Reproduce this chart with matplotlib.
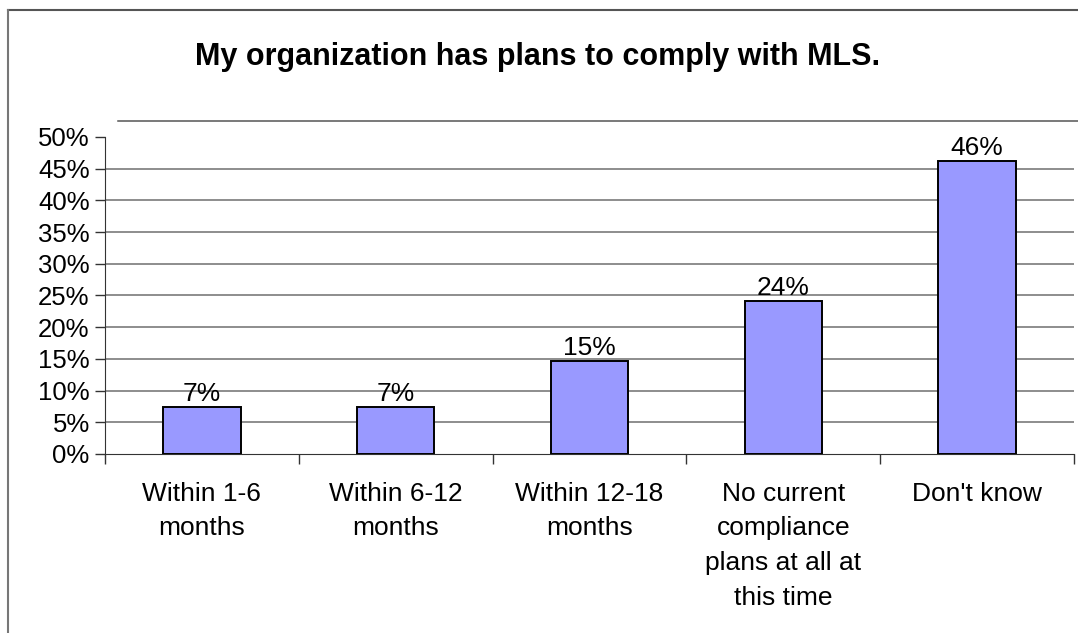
import numpy as np
import matplotlib
matplotlib.use('Agg')
import matplotlib.pyplot as plt
from matplotlib.lines import Line2D

plt.rcParams['font.family'] = ['Liberation Sans', 'DejaVu Sans']

# Survey answers and shares
categories = ['Within 1-6\nmonths', 'Within 6-12\nmonths', 'Within 12-18\nmonths',
              'No current\ncompliance\nplans at all at\nthis time', "Don't know"]
shares = [0.074, 0.074, 0.147, 0.241, 0.462]
y_ticks = [0.0, 0.05, 0.10, 0.15, 0.20, 0.25, 0.30, 0.35, 0.40, 0.45, 0.50]

fig = plt.figure(figsize=(10.78, 6.33), dpi=100)
ax = fig.add_axes([0.0974, 0.2828, 0.8989, 0.5008])

x = np.arange(len(categories))
bars = ax.bar(x, shares, width=0.4, color='#9999FF', edgecolor='black', linewidth=1.4, zorder=3)

# Value labels above the bars
for b, v in zip(bars, shares):
    ax.text(b.get_x() + b.get_width() / 2, v + 0.002, f'{v:.0%}', ha='center', va='bottom',
            fontsize=19, color='black')

ax.set_xlim(-0.5, len(categories) - 0.5)
ax.set_ylim(0, 0.5)
ax.set_yticks(y_ticks)
ax.set_yticklabels([f'{t:.0%}' for t in y_ticks], fontsize=18.5)
ax.tick_params(axis='y', direction='out', length=7, width=1, pad=4, colors='#333333', labelcolor='black')

# Category ticks sit between the bars
ax.set_xticks(x)
ax.set_xticklabels(categories, fontsize=19, linespacing=1.56, va='top')
ax.tick_params(axis='x', which='major', length=0, pad=20)
ax.set_xticks(np.arange(-0.5, len(categories)), minor=True)
ax.tick_params(axis='x', which='minor', direction='out', length=7, width=1, colors='#333333')

# Horizontal gridlines from 5% to 45%
for t in y_ticks[1:-1]:
    ax.axhline(t, color='#6f6f6f', linewidth=1.1, zorder=1)

for s in ['top', 'right']:
    ax.spines[s].set_visible(False)
ax.spines['left'].set_color('#333333')
ax.spines['bottom'].set_color('#333333')

fig.text(0.499, 0.910, 'My organization has plans to comply with MLS.', ha='center', va='center',
         fontsize=22, fontweight='bold')

# Chart frame and the line above the plot area
fig.add_artist(Line2D([0.0074, 1.0], [0.9842, 0.9842], color='#555555', linewidth=1.5))
fig.add_artist(Line2D([0.0074, 0.0074], [0.0, 0.9842], color='#777777', linewidth=1.5))
fig.add_artist(Line2D([0.1095, 1.0], [0.8088, 0.8088], color='#555555', linewidth=1.1))

fig.savefig('out.png', dpi=100)
